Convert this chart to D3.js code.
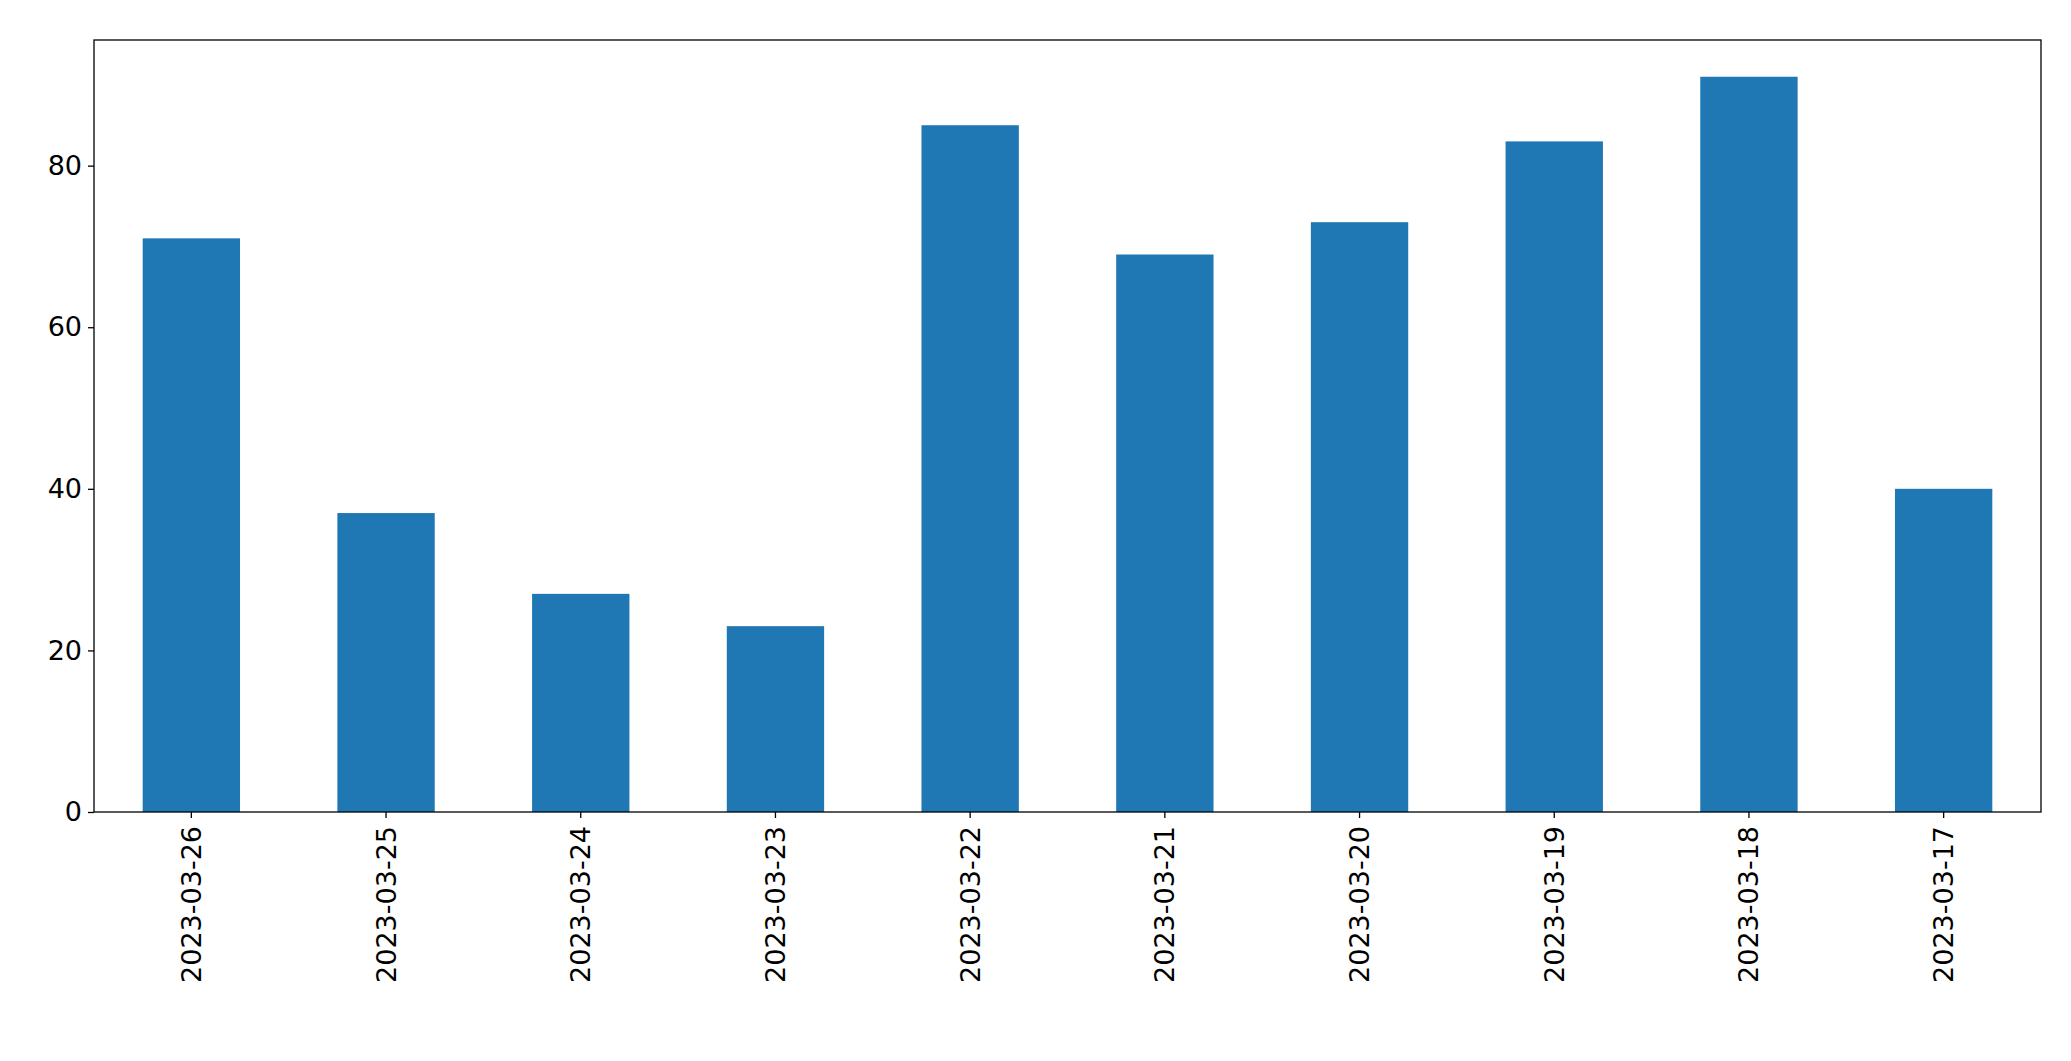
<!DOCTYPE html>
<html>
<head>
<meta charset="utf-8">
<script src="https://cdn.jsdelivr.net/npm/d3@7"></script>
<style>
  html, body { margin: 0; padding: 0; background: #fff; }
  svg { display: block; font-family: "DejaVu Sans", sans-serif; }
</style>
</head>
<body>
<svg id="chart" width="2071" height="1061"></svg>
<script>
// Данные
const dates = ['2023-03-26','2023-03-25','2023-03-24','2023-03-23','2023-03-22',
               '2023-03-21','2023-03-20','2023-03-19','2023-03-18','2023-03-17'];
const values = [71, 37, 27, 23, 85, 69, 73, 83, 91, 40];
const yTicks = [0, 20, 40, 60, 80];

const W = 2071, H = 1061;
const m = { left: 94, right: 30, top: 40, bottom: 249 };
const iw = W - m.left - m.right, ih = H - m.top - m.bottom;

const svg = d3.select('#chart');
const g = svg.append('g').attr('transform', `translate(${m.left},${m.top})`);

const x = d3.scaleBand().domain(dates).range([0, iw]).paddingInner(0.5).paddingOuter(0.25);
const y = d3.scaleLinear().domain([0, d3.max(values) * 1.05]).range([ih, 0]);

g.selectAll('rect.bar')
  .data(values)
  .join('rect')
  .attr('class', 'bar')
  .attr('x', (d, i) => x(dates[i]))
  .attr('y', d => y(d))
  .attr('width', x.bandwidth())
  .attr('height', d => ih - y(d))
  .attr('fill', '#1f77b4');

// Оси
const yAxis = g.append('g')
  .call(d3.axisLeft(y).tickValues(yTicks).tickSize(6).tickPadding(6));
const xAxis = g.append('g').attr('transform', `translate(0,${ih})`)
  .call(d3.axisBottom(x).tickSize(6).tickPadding(8));

[xAxis, yAxis].forEach(a => {
  a.select('.domain').remove();
  a.selectAll('line').attr('stroke', '#000').attr('stroke-width', 1.3);
  a.selectAll('text').attr('fill', '#000').attr('font-size', 27)
    .attr('font-family', '"DejaVu Sans", sans-serif');
});

xAxis.selectAll('text')
  .attr('transform', 'rotate(-90)')
  .attr('text-anchor', 'end')
  .attr('dy', '0.35em')
  .attr('x', -14)
  .attr('y', 0);

// Рамка
g.append('rect')
  .attr('width', iw).attr('height', ih)
  .attr('fill', 'none').attr('stroke', '#000').attr('stroke-width', 1.3);
</script>
</body>
</html>
